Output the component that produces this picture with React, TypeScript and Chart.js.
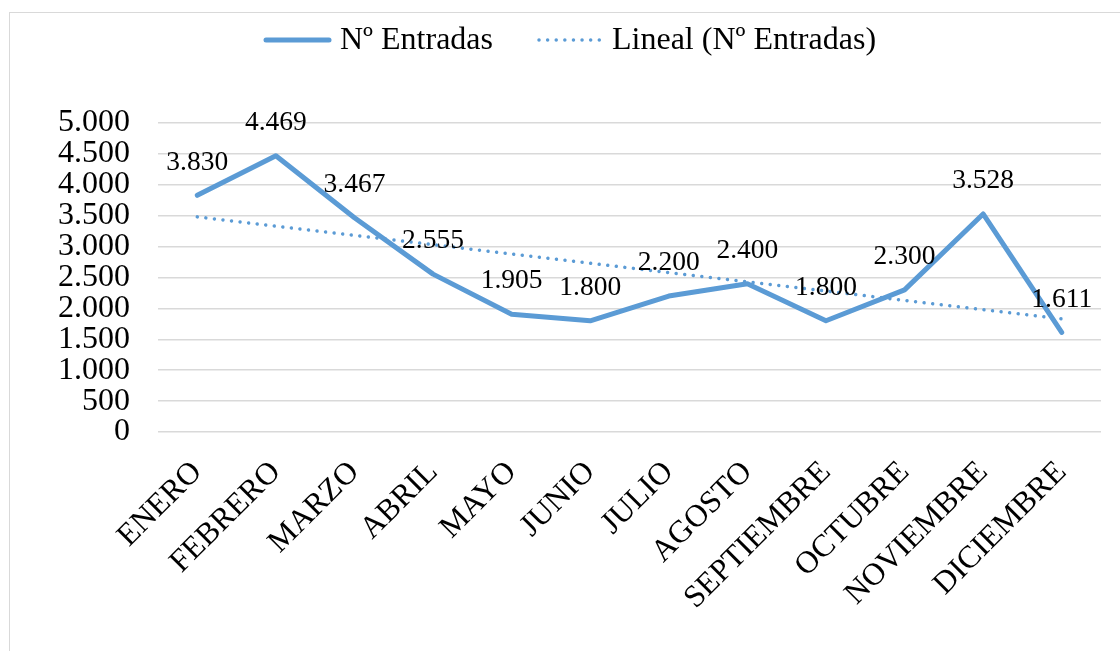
import React, { useEffect, useRef } from "react";
import { Chart, registerables } from "chart.js";

Chart.register(...registerables);

const categories = ["ENERO", "FEBRERO", "MARZO", "ABRIL", "MAYO", "JUNIO", "JULIO", "AGOSTO", "SEPTIEMBRE", "OCTUBRE", "NOVIEMBRE", "DICIEMBRE"];
const entradas = [3830, 4469, 3467, 2555, 1905, 1800, 2200, 2400, 1800, 2300, 3528, 1611];
const tendencia = [3481, 3331, 3181, 3031, 2881, 2730, 2580, 2430, 2280, 2130, 1980, 1830];
const yTicks = [0, 500, 1000, 1500, 2000, 2500, 3000, 3500, 4000, 4500, 5000];
const seriesLabels = ["Nº Entradas", "Lineal (Nº Entradas)"];

const BLUE = "#5B9BD5";
const FONT = "'Liberation Serif', 'Times New Roman', serif";

function fmt(v: number): string {
  const s = Math.round(v).toString();
  return s.replace(/\B(?=(\d{3})+(?!\d))/g, ".");
}

const dataLabelPlugin = {
  id: "dataLabels",
  afterDatasetsDraw(chart: any) {
    const ctx = chart.ctx;
    const meta = chart.getDatasetMeta(0);
    ctx.save();
    ctx.font = `27.5px ${FONT}`;
    ctx.fillStyle = "#000";
    ctx.textAlign = "center";
    ctx.textBaseline = "middle";
    meta.data.forEach((pt: any, i: number) => {
      ctx.fillText(fmt(entradas[i]), pt.x, pt.y - 33);
    });
    ctx.restore();
  },
};

const legendPlugin = {
  id: "customLegend",
  afterDraw(chart: any) {
    const ctx = chart.ctx;
    ctx.save();
    ctx.font = `32px ${FONT}`;
    ctx.textBaseline = "middle";
    ctx.fillStyle = "#000";
    const y = 27;
    const ds0 = chart.data.datasets[0];
    ctx.strokeStyle = ds0.borderColor;
    ctx.lineWidth = 5;
    ctx.lineCap = "round";
    ctx.beginPath();
    ctx.moveTo(256, y);
    ctx.lineTo(319, y);
    ctx.stroke();
    ctx.fillText(ds0.label, 330, y + 1);
    const ds1 = chart.data.datasets[1];
    ctx.strokeStyle = ds1.borderColor;
    ctx.lineWidth = 3.5;
    ctx.setLineDash([0.01, 8.6]);
    ctx.beginPath();
    ctx.moveTo(529, y);
    ctx.lineTo(594, y);
    ctx.stroke();
    ctx.setLineDash([]);
    ctx.fillText(ds1.label, 602, y + 1);
    ctx.restore();
  },
};

export default function App() {
  const ref = useRef<HTMLCanvasElement | null>(null);
  useEffect(() => {
    if (!ref.current) return;
    const chart = new Chart(ref.current, {
      type: "line",
      data: {
        labels: categories,
        datasets: [
          {
            label: seriesLabels[0],
            data: entradas,
            borderColor: BLUE,
            backgroundColor: BLUE,
            borderWidth: 5,
            pointRadius: 0,
            tension: 0,
            borderJoinStyle: "round",
            borderCapStyle: "round",
            order: 1,
          },
          {
            label: seriesLabels[1],
            data: tendencia,
            borderColor: BLUE,
            backgroundColor: BLUE,
            borderWidth: 3.5,
            borderDash: [0.01, 8.6],
            borderCapStyle: "round",
            pointRadius: 0,
            tension: 0,
            order: 2,
          },
        ],
      },
      options: {
        animation: false,
        responsive: false,
        maintainAspectRatio: false,
        layout: { padding: { left: 0, right: 9, top: 110, bottom: 0 } },
        plugins: {
          legend: { display: false },
          tooltip: { enabled: false },
        },
        scales: {
          x: {
            offset: true,
            grid: { display: false },
            border: { display: false },
            ticks: {
              minRotation: 45,
              maxRotation: 45,
              autoSkip: false,
              padding: 14,
              color: "#000",
              font: { family: FONT, size: 31.5 },
            },
            afterFit(scale: any) {
              scale.height = 211;
            },
          },
          y: {
            min: 0,
            max: 5000,
            afterBuildTicks(scale: any) {
              scale.ticks = yTicks.map((v) => ({ value: v }));
            },
            grid: { color: "#d9d9d9", lineWidth: 1.5, drawTicks: false },
            border: { display: false },
            ticks: {
              autoSkip: false,
              padding: 28,
              color: "#000",
              font: { family: FONT, size: 32 },
              callback: (v: any) => fmt(Number(v)),
            },
            afterFit(scale: any) {
              scale.width = 148;
            },
          },
        },
      },
      plugins: [dataLabelPlugin, legendPlugin],
    });
    return () => chart.destroy();
  }, []);

  return (
    <div style={{ position: "fixed", left: 0, top: 0, width: 1120, height: 651, overflow: "hidden", background: "#fff" }}>
      <div style={{ position: "absolute", left: 9, top: 12, width: 1130, height: 650, border: "1.5px solid #d9d9d9", boxSizing: "border-box" }}>
        <canvas ref={ref} width={1100} height={630} style={{ position: "absolute", left: 0, top: 0, width: 1100, height: 630 }} />
      </div>
    </div>
  );
}
